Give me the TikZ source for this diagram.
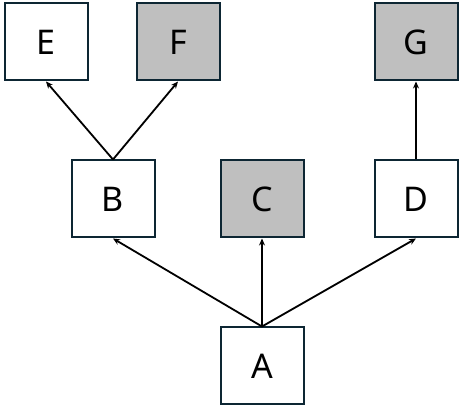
\documentclass[tikz,border=0pt]{standalone}
\usepackage{fontspec}
\setmainfont{Noto Sans}
\usetikzlibrary{arrows.meta}
\definecolor{edgec}{HTML}{0D2633}
\definecolor{grayf}{HTML}{BFBFBF}
\tikzset{
  box/.style={draw=edgec, line width=2pt, minimum width=83pt, minimum height=77pt, inner sep=0pt, fill=white, font=\fontsize{34pt}{40pt}\selectfont},
  shaded/.style={box, fill=grayf},
  link/.style={line width=1.8pt, -{Stealth[length=7pt,width=6pt]}}
}
\begin{document}
\begin{tikzpicture}[x=1pt,y=1pt]
\useasboundingbox (0,0) rectangle (461,410);
\node[box] (E) at (46,368) {E};
\node[shaded] (F) at (178,368) {F};
\node[shaded] (G) at (416,368) {G};
\node[box] (B) at (113,211) {B};
\node[shaded] (C) at (262,211) {C};
\node[box] (D) at (416,211) {D};
\node[box] (A) at (262,44) {A};
\draw[link] (A.north) -- (B.south);
\draw[link] (A.north) -- (C.south);
\draw[link] (A.north) -- (D.south);
\draw[link] (B.north) -- (E.south);
\draw[link] (B.north) -- (F.south);
\draw[link] (D.north) -- (G.south);
\end{tikzpicture}
\end{document}
